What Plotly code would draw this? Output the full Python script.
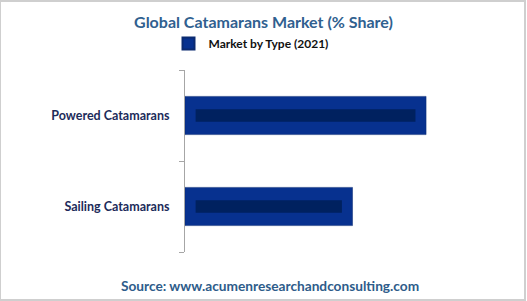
import plotly.graph_objects as go

categories = ["Sailing Catamarans", "Powered Catamarans"]
values = [41, 59]
series_name = "Market by Type (2021)"

bar_color = "#07318f"
stripe_color = "#00215f"
bevel = 2.6
x_max = 72.2

fig = go.Figure()
fig.add_trace(go.Bar(
    y=categories, x=values, orientation="h", name=series_name,
    marker=dict(color=bar_color, line=dict(color="#0b2a70", width=0.5)),
    width=0.42, showlegend=True, hoverinfo="x+y",
))
fig.add_trace(go.Bar(
    y=categories, x=[v - 2 * bevel for v in values], base=bevel, orientation="h",
    marker=dict(color=stripe_color, line=dict(width=0)),
    width=0.14, showlegend=False, hoverinfo="skip",
))

fig.update_layout(
    width=527, height=301,
    barmode="overlay",
    paper_bgcolor="white", plot_bgcolor="white",
    margin=dict(l=185, r=47, t=70, b=49, autoexpand=False),
    font=dict(family="Lato, Open Sans, sans-serif"),
    title=dict(
        text="<b>Global Catamarans Market (% Share)</b>",
        x=0.5, xanchor="center", y=0.925, yanchor="middle",
        font=dict(size=16, color="#30608f", family="Lato, sans-serif"),
    ),
    legend=dict(
        orientation="h", x=(251 - 185) / 295, xanchor="center", xref="paper",
        y=1.145, yanchor="middle",
        font=dict(size=12, color="#111111", family="Lato, sans-serif", weight="bold"),
        itemsizing="constant", itemwidth=30,
        bgcolor="rgba(0,0,0,0)",
    ),
    xaxis=dict(range=[0, x_max], visible=False, showgrid=False, zeroline=False),
    yaxis=dict(
        categoryorder="array", categoryarray=categories,
        showline=True, linecolor="#a6a6a6", linewidth=1,
        ticks="outside", tickson="boundaries", ticklen=5, tickcolor="#a6a6a6",
        showgrid=False,
        tickfont=dict(size=12.5, color="#1c2b5a", family="Lato, sans-serif", weight="bold"),
        ticklabelstandoff=12,
    ),
    annotations=[dict(
        text="<b>Source: www.acumenresearchandconsulting.com</b>",
        xref="paper", yref="paper", x=(270 - 185) / 295, y=-0.185, xanchor="center", yanchor="middle",
        showarrow=False, font=dict(size=13.7, color="#2e5c8a", family="Lato, sans-serif"),
    )],
    shapes=[dict(
        type="rect", xref="paper", yref="paper",
        x0=-185/295, x1=1 + 45/295, y0=-49/182 + 1/182, y1=1 + 70/182 - 1/182,
        line=dict(color="#cfcfcf", width=2), fillcolor="rgba(0,0,0,0)", layer="below",
    )],
)

fig.write_html("out.html")
